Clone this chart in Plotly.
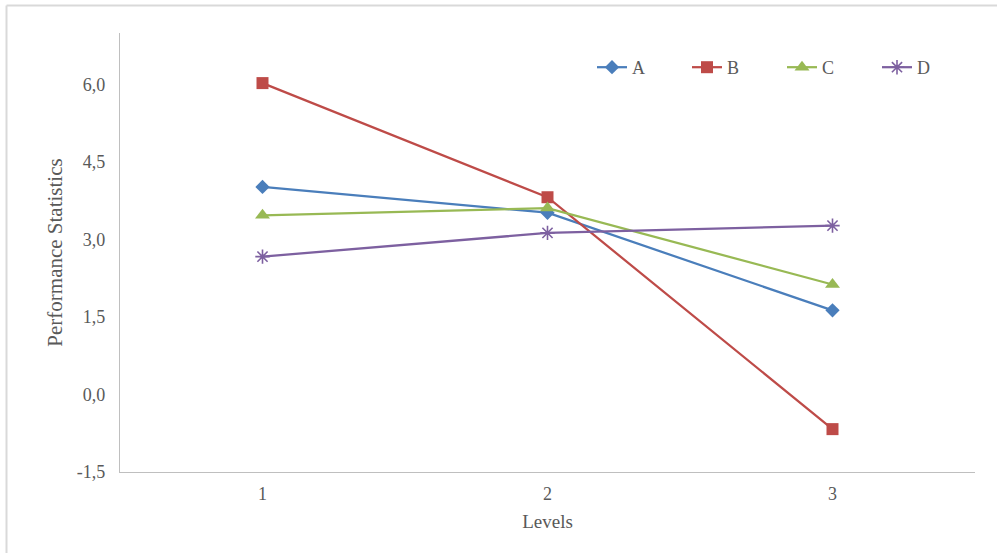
import plotly.graph_objects as go

levels = ["1", "2", "3"]
series_a = [4.02, 3.52, 1.63]
series_b = [6.03, 3.82, -0.67]
series_c = [3.47, 3.61, 2.13]
series_d = [2.67, 3.13, 3.27]

y_ticks = [-1.5, 0.0, 1.5, 3.0, 4.5, 6.0]
y_tick_text = ["-1,5", "0,0", "1,5", "3,0", "4,5", "6,0"]

FONT = "Liberation Serif, Times New Roman, serif"
TEXT = "#595959"

styles = [
    ("A", series_a, "#4A7EBB", dict(symbol="diamond", size=11)),
    ("B", series_b, "#BE4B48", dict(symbol="square", size=12)),
    ("C", series_c, "#98B954", dict(symbol="triangle-up", size=13)),
    ("D", series_d, "#7D60A0", dict(symbol="asterisk-open", size=12,
                                     line=dict(width=1.6, color="#7D60A0"))),
]

fig = go.Figure()
for name, vals, color, marker in styles:
    fig.add_trace(go.Scatter(
        x=levels, y=vals, name=name, mode="lines+markers",
        line=dict(color=color, width=2.25),
        marker=dict(color=color, **marker),
    ))

# light frame around the chart area (top and left edges)
L, R, T, B = 120, 975, 33, 472
pw, ph = R - L, B - T
fx = lambda px: (px - L) / pw
fy = lambda py: (B - py) / ph
frame = dict(type="line", xref="paper", yref="paper",
             line=dict(color="#D9D9D9", width=2), layer="below")
fig.add_shape(x0=fx(6.5), x1=fx(1000), y0=fy(5.5), y1=fy(5.5), **frame)
fig.add_shape(x0=fx(6.5), x1=fx(6.5), y0=fy(5.5), y1=fy(560), **frame)

fig.update_layout(
    width=997, height=553,
    margin=dict(l=L, r=997 - R, t=T, b=553 - B, autoexpand=False),
    paper_bgcolor="white", plot_bgcolor="white",
    font=dict(family=FONT, size=18, color=TEXT),
    showlegend=True,
    legend=dict(orientation="h", x=fx(592), y=fy(49), xanchor="left", yanchor="top",
                entrywidth=50, entrywidthmode="pixels",
                font=dict(family=FONT, size=18, color=TEXT),
                bgcolor="rgba(0,0,0,0)"),
    xaxis=dict(
        type="category", range=[-0.5, 2.5],
        showline=True, linecolor="#BFBFBF", linewidth=1.3,
        showgrid=False, zeroline=False, ticks="", ticklabelstandoff=5,
        title=dict(text="Levels", font=dict(family=FONT, size=19, color=TEXT), standoff=11),
    ),
    yaxis=dict(
        range=[-1.5, 7.0],
        tickvals=y_ticks, ticktext=y_tick_text,
        showline=True, linecolor="#BFBFBF", linewidth=1.3,
        showgrid=False, zeroline=False, ticks="", ticklabelstandoff=10,
        title=dict(text="Performance Statistics", font=dict(family=FONT, size=21, color=TEXT), standoff=8),
    ),
)

fig.write_html("out.html")
